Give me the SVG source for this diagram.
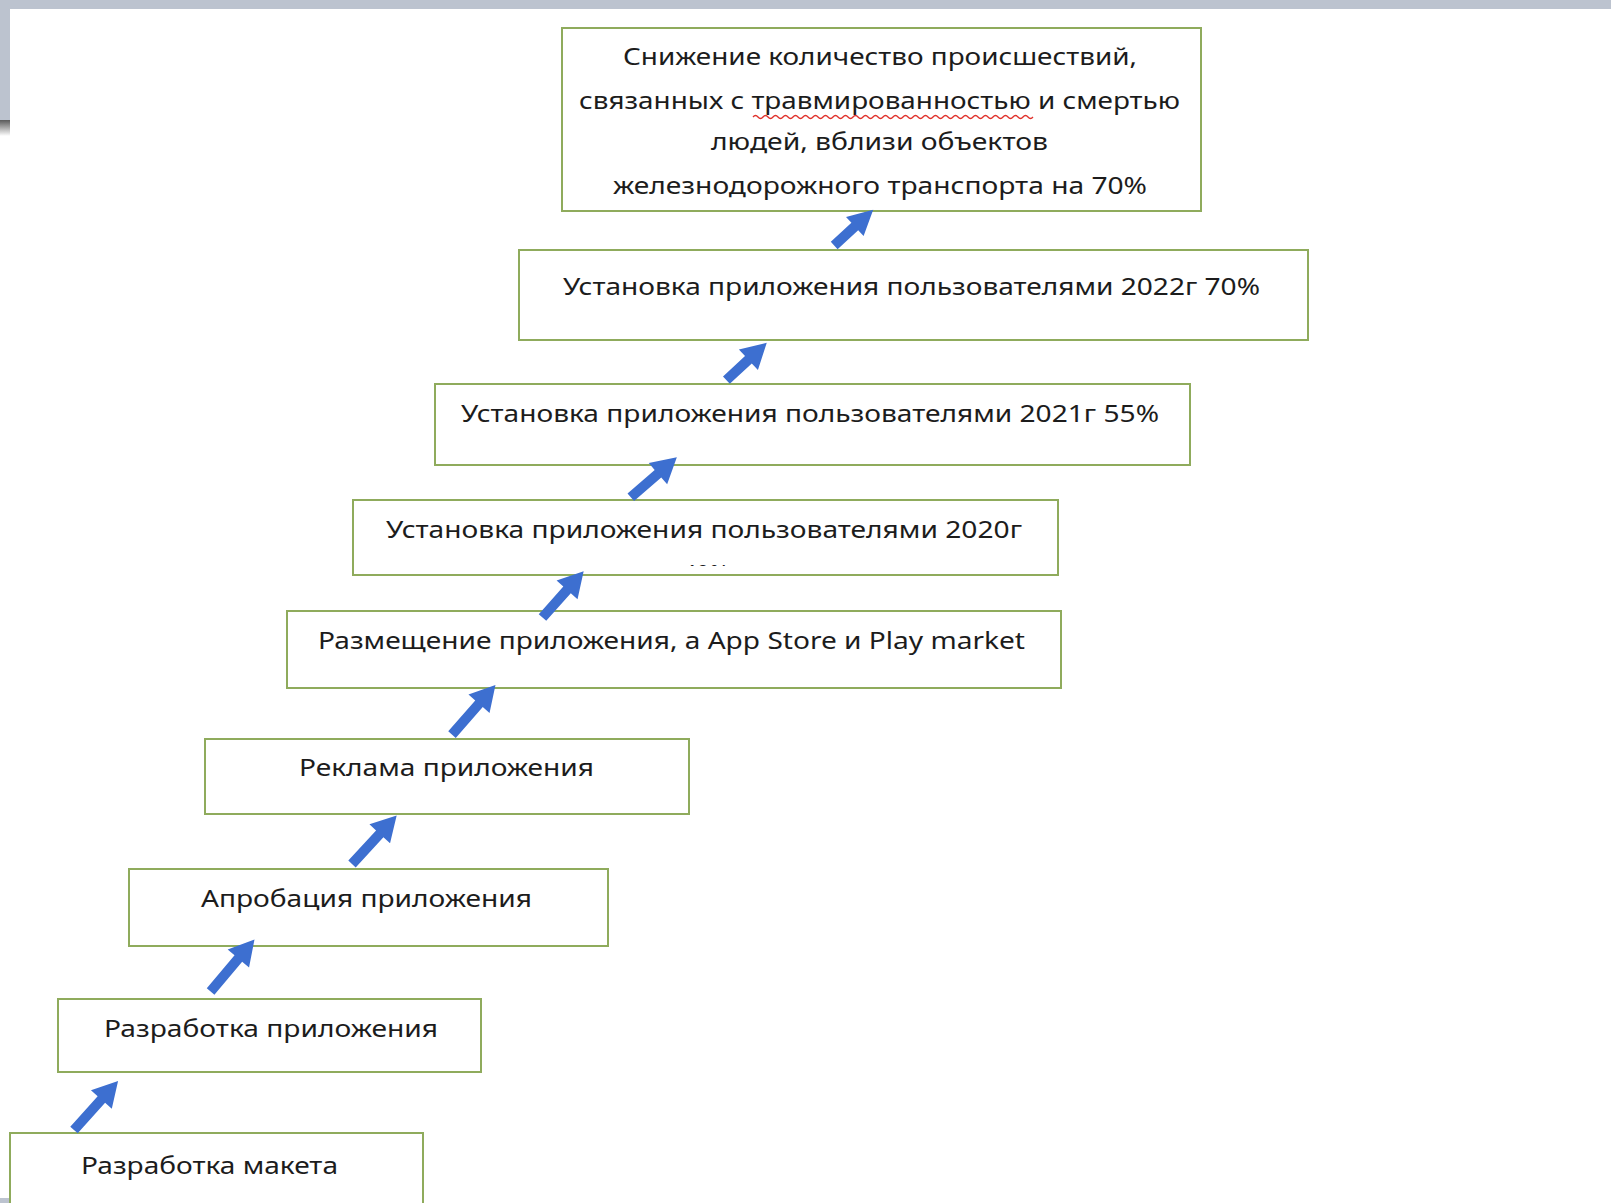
<svg xmlns="http://www.w3.org/2000/svg" width="1611" height="1203" viewBox="0 0 1611 1203">
<style>
.box{fill:#ffffff;stroke:#8fab5c;stroke-width:2}
.t{font-family:"Noto Sans","Open Sans","DejaVu Sans",sans-serif;font-size:23px;fill:#1c1c1c}
.arr{fill:#3d6fd0}
</style>
<defs>
<linearGradient id="sh" x1="0" y1="0" x2="0" y2="1">
<stop offset="0" stop-color="#5a5a5a"/>
<stop offset="1" stop-color="#ffffff"/>
</linearGradient>
<clipPath id="cut"><rect x="670" y="560" width="80" height="6"/></clipPath>
</defs>
<rect x="0" y="0" width="1611" height="1203" fill="#ffffff"/>
<rect x="0" y="0" width="1611" height="9" fill="#bcc3cf"/>
<rect x="0" y="0" width="10" height="121" fill="#bcc3cf"/>
<rect x="0" y="120" width="10" height="16" fill="url(#sh)"/>
<rect x="0" y="1198" width="10" height="5" fill="#bcc3cf"/>

<g id="node1">
<rect class="box" x="562" y="28" width="639" height="183"/>
<text class="t" x="623" y="65" textLength="514" lengthAdjust="spacingAndGlyphs">Снижение количество происшествий,</text>
<text class="t" x="579" y="109" textLength="601" lengthAdjust="spacingAndGlyphs">связанных с травмированностью и смертью</text>
<path d="M753,117 q2.5,-3 5,0 t5,0 t5,0 t5,0 t5,0 t5,0 t5,0 t5,0 t5,0 t5,0 t5,0 t5,0 t5,0 t5,0 t5,0 t5,0 t5,0 t5,0 t5,0 t5,0 t5,0 t5,0 t5,0 t5,0 t5,0 t5,0 t5,0 t5,0 t5,0 t5,0 t5,0 t5,0 t5,0 t5,0 t5,0 t5,0 t5,0 t5,0 t5,0 t5,0 t5,0 t5,0 t5,0 t5,0 t5,0 t5,0 t5,0 t5,0 t5,0 t5,0 t5,0 t5,0 t5,0 t5,0 t5,0 t5,0" fill="none" stroke="#e0302a" stroke-width="1.3"/>
<text class="t" x="711" y="150" textLength="337" lengthAdjust="spacingAndGlyphs">людей, вблизи объектов</text>
<text class="t" x="613" y="194" textLength="534" lengthAdjust="spacingAndGlyphs">железнодорожного транспорта на 70%</text>
</g>
<g id="node2">
<rect class="box" x="519" y="250" width="789" height="90"/>
<text class="t" x="563" y="295" textLength="697" lengthAdjust="spacingAndGlyphs">Установка приложения пользователями 2022г 70%</text>
</g>
<g id="node3">
<rect class="box" x="435" y="384" width="755" height="81"/>
<text class="t" x="461" y="422" textLength="698" lengthAdjust="spacingAndGlyphs">Установка приложения пользователями 2021г 55%</text>
</g>
<g id="node4">
<rect class="box" x="353" y="500" width="705" height="75"/>
<text class="t" x="386" y="538" textLength="636" lengthAdjust="spacingAndGlyphs">Установка приложения пользователями 2020г</text>
<text class="t" x="683" y="582" textLength="46" lengthAdjust="spacingAndGlyphs" clip-path="url(#cut)">40%</text>
</g>
<g id="node5">
<rect class="box" x="287" y="611" width="774" height="77"/>
<text class="t" x="318" y="649" textLength="707" lengthAdjust="spacingAndGlyphs">Размещение приложения, а App Store и Play market</text>
</g>
<g id="node6">
<rect class="box" x="205" y="739" width="484" height="75"/>
<text class="t" x="299" y="776" textLength="295" lengthAdjust="spacingAndGlyphs">Реклама приложения</text>
</g>
<g id="node7">
<rect class="box" x="129" y="869" width="479" height="77"/>
<text class="t" x="201" y="907" textLength="331" lengthAdjust="spacingAndGlyphs">Апробация приложения</text>
</g>
<g id="node8">
<rect class="box" x="58" y="999" width="423" height="73"/>
<text class="t" x="104" y="1037" textLength="334" lengthAdjust="spacingAndGlyphs">Разработка приложения</text>
</g>
<g id="node9">
<rect class="box" x="10" y="1133" width="413" height="80"/>
<text class="t" x="81" y="1174" textLength="257" lengthAdjust="spacingAndGlyphs">Разработка макета</text>
</g>

<g id="connectors">
<path class="arr" transform="translate(74,1130) rotate(-48.1)" d="M0,-5 H41 V-14 L66,0 L41,14 V5 H0 Z"/>
<path class="arr" transform="translate(210.6,991.4) rotate(-49.8)" d="M0,-5 H43 V-14 L68,0 L43,14 V5 H0 Z"/>
<path class="arr" transform="translate(352,864) rotate(-47.4)" d="M0,-5 H41 V-14 L66,0 L41,14 V5 H0 Z"/>
<path class="arr" transform="translate(452,734.6) rotate(-48.8)" d="M0,-5 H41 V-14 L66,0 L41,14 V5 H0 Z"/>
<path class="arr" transform="translate(542.5,617.5) rotate(-48.4)" d="M0,-5 H37 V-14 L62,0 L37,14 V5 H0 Z"/>
<path class="arr" transform="translate(630.8,497.3) rotate(-41)" d="M0,-5 H36 V-14 L61,0 L36,14 V5 H0 Z"/>
<path class="arr" transform="translate(726.4,380.1) rotate(-42.8)" d="M0,-5 H30 V-14 L55,0 L30,14 V5 H0 Z"/>
<path class="arr" transform="translate(834.2,245.5) rotate(-42.6)" d="M0,-5 H28 V-13 L53,0 L28,13 V5 H0 Z"/>
</g>
</svg>
